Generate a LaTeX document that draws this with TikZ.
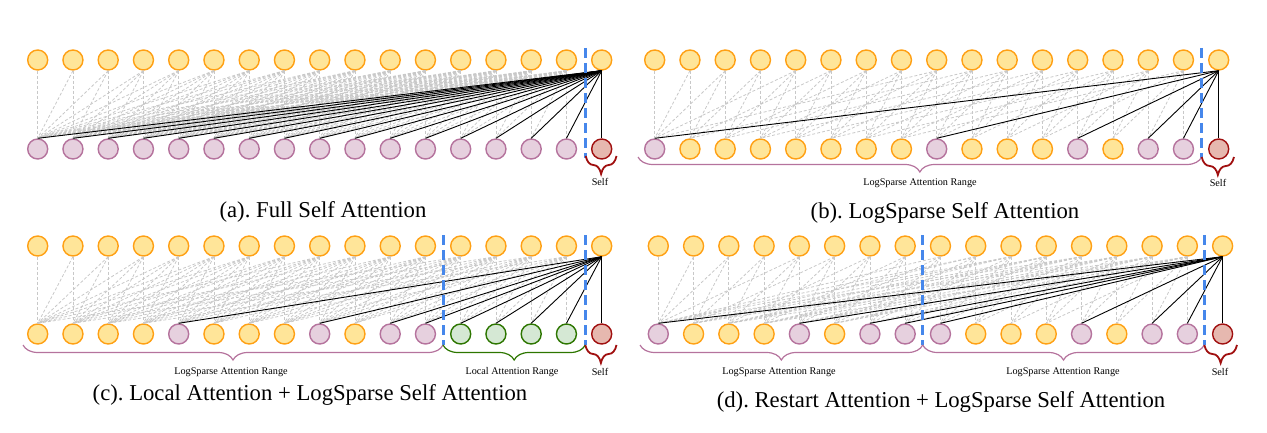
\documentclass[tikz,border=0pt]{standalone}
\usepackage{fontspec}
\setmainfont{Liberation Serif}
\usetikzlibrary{decorations.pathreplacing}
\definecolor{yfill}{RGB}{255,229,153}
\definecolor{ystroke}{RGB}{255,160,20}
\definecolor{pfill}{RGB}{230,208,222}
\definecolor{pstroke}{RGB}{181,115,157}
\definecolor{rfill}{RGB}{230,184,175}
\definecolor{rstroke}{RGB}{160,15,15}
\definecolor{gfill}{RGB}{213,232,212}
\definecolor{gstroke}{RGB}{45,118,0}
\definecolor{bluedash}{RGB}{70,135,235}
\definecolor{grayline}{RGB}{200,200,200}
\frenchspacing
\begin{document}
\begin{tikzpicture}[x=1pt,y=-1pt,
  cell/.style={circle,minimum size=20pt,inner sep=0pt,line width=1.4pt},
  ycell/.style={cell,draw=ystroke,fill=yfill},
  pcell/.style={cell,draw=pstroke,fill=pfill},
  rcell/.style={cell,draw=rstroke,fill=rfill},
  gcell/.style={cell,draw=gstroke,fill=gfill},
  attn/.style={black,line width=0.9pt},
  weak/.style={grayline,dash pattern=on 3pt off 2pt,line width=0.8pt},
  sepline/.style={bluedash,line width=3pt,dash pattern=on 10pt off 5pt},
  pbrace/.style={pstroke,line width=1.2pt,decorate,decoration={brace,mirror,amplitude=15pt}},
  gbrace/.style={gstroke,line width=1.2pt,decorate,decoration={brace,mirror,amplitude=15pt}},
  rbrace/.style={rstroke,line width=1.8pt,decorate,decoration={brace,mirror,amplitude=18pt}},
  lbl/.style={font=\fontsize{10.2}{12}\selectfont,inner sep=0pt},
  captext/.style={font=\fontsize{22.7}{27}\selectfont,inner sep=0pt}
]
\useasboundingbox (0,0) rectangle (1267,433);

% ---------------- (a) ----------------
\foreach \k in {1,...,17} {
  \node[ycell] (a-t-\k) at ({37.7+35.25*(\k-1)},60) {};
}
\foreach \k in {1,...,16} {
  \node[pcell] (a-b-\k) at ({37.7+35.25*(\k-1)},149) {};
}
\node[rcell] (a-b-17) at ({37.7+35.25*16},149) {};
\foreach \i in {1,...,16} {
  \foreach \j in {1,...,\i} {
    \draw[weak] (a-t-\i.south) -- (a-b-\j.north);
  }
}
\foreach \j in {1,...,17} {
  \draw[attn] (a-t-17.south) -- (a-b-\j.north);
}
\draw[sepline] (585.7,48) -- (585.7,158);
\draw[rbrace] (585.7,156) -- (616.5,156);
\node[lbl] (a-self) at (600,182) {Self};
\node[captext] (a-cap) at (323,212) {(a). Full Self Attention};

% ---------------- (b) ----------------
\foreach \k in {1,...,17} {
  \node[ycell] (b-t-\k) at ({654.7+35.25*(\k-1)},60) {};
}
\foreach \k/\s in {1/pcell,2/ycell,3/ycell,4/ycell,5/ycell,6/ycell,7/ycell,8/ycell,9/pcell,10/ycell,11/ycell,12/ycell,13/pcell,14/ycell,15/pcell,16/pcell,17/rcell} {
  \node[\s] (b-b-\k) at ({654.7+35.25*(\k-1)},149) {};
}
\foreach \i in {1,...,16} {
  \foreach \d in {0,1,2,4,8} {
    \pgfmathtruncatemacro\j{\i-\d}
    \ifnum\j>0 \draw[weak] (b-t-\i.south) -- (b-b-\j.north); \fi
  }
}
\foreach \j in {1,9,13,15,16,17} {
  \draw[attn] (b-t-17.south) -- (b-b-\j.north);
}
\draw[sepline] (1201.7,48) -- (1201.7,158);
\draw[pbrace] (638,157) -- (1201.7,157);
\draw[rbrace] (1201.7,157) -- (1234,157);
\node[lbl] (b-range) at (920,183) {LogSparse Attention Range};
\node[lbl] (b-self) at (1218,183) {Self};
\node[captext] (b-cap) at (945,213) {(b). LogSparse Self Attention};

% ---------------- (c) ----------------
\foreach \k in {1,...,17} {
  \node[ycell] (c-t-\k) at ({37.7+35.25*(\k-1)},246) {};
}
\foreach \k/\s in {1/ycell,2/ycell,3/ycell,4/ycell,5/pcell,6/ycell,7/ycell,8/ycell,9/pcell,10/ycell,11/pcell,12/pcell,13/gcell,14/gcell,15/gcell,16/gcell,17/rcell} {
  \node[\s] (c-b-\k) at ({37.7+35.25*(\k-1)},334) {};
}
\foreach \i in {1,...,16} {
  \foreach \d in {0,1,2,3,4,5,6,8,12} {
    \pgfmathtruncatemacro\j{\i-\d}
    \ifnum\j>0 \draw[weak] (c-t-\i.south) -- (c-b-\j.north); \fi
  }
}
\foreach \j in {5,9,11,12,13,14,15,16,17} {
  \draw[attn] (c-t-17.south) -- (c-b-\j.north);
}
\draw[sepline] (443,235) -- (443,345);
\draw[sepline] (585.3,235) -- (585.3,345);
\draw[pbrace] (23,345) -- (443,345);
\draw[gbrace] (443,345) -- (585.3,345);
\draw[rbrace] (585.3,345) -- (616.5,345);
\node[lbl] (c-range) at (231,372) {LogSparse Attention Range};
\node[lbl] (c-local) at (512,372) {Local Attention Range};
\node[lbl] (c-self) at (600,372) {Self};
\node[captext] (c-cap) at (310,395) {(c). Local Attention + LogSparse Self Attention};

% ---------------- (d) ----------------
\foreach \k in {1,...,17} {
  \node[ycell] (d-t-\k) at ({658.3+35.27*(\k-1)},246) {};
}
\foreach \k/\s in {1/pcell,2/ycell,3/ycell,4/ycell,5/pcell,6/ycell,7/pcell,8/pcell,9/pcell,10/ycell,11/ycell,12/ycell,13/pcell,14/ycell,15/pcell,16/pcell,17/rcell} {
  \node[\s] (d-b-\k) at ({658.3+35.27*(\k-1)},334) {};
}
\foreach \i in {1,...,16} {
  \foreach \d in {0,1,2,4,8,9,10,12} {
    \pgfmathtruncatemacro\j{\i-\d}
    \ifnum\j>0 \draw[weak] (d-t-\i.south) -- (d-b-\j.north); \fi
  }
}
\foreach \j in {1,5,7,8,9,13,15,16,17} {
  \draw[attn] (d-t-17.south) -- (d-b-\j.north);
}
\draw[sepline] (922.7,235) -- (922.7,345);
\draw[sepline] (1204.3,235) -- (1204.3,345);
\draw[pbrace] (640,345) -- (922.7,345);
\draw[pbrace] (922.7,345) -- (1204.3,345);
\draw[rbrace] (1204.3,345) -- (1237,345);
\node[lbl] (d-range1) at (779,372) {LogSparse Attention Range};
\node[lbl] (d-range2) at (1063,372) {LogSparse Attention Range};
\node[lbl] (d-self) at (1220,372) {Self};
\node[captext] (d-cap) at (941,402) {(d). Restart Attention + LogSparse Self Attention};
\end{tikzpicture}
\end{document}
